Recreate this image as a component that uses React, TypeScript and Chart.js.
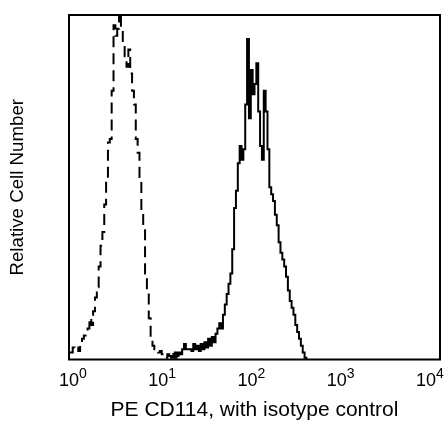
import React, { useEffect, useRef } from "react";
import { Chart, registerables } from "chart.js";

Chart.register(...registerables);

// Histogram bins (log10 of fluorescence), width of one bin in decades
const BIN_WIDTH = 0.02;

// Isotype control (dashed) — first bin starts at 10^0.00
const isotypeStart = 0.0;
const isotypeCounts = [
  2, 2, 3.5, 3, 3.5, 2.5, 4, 6, 7, 7.5,
  9, 12, 10, 14, 18, 21, 27, 33, 37, 45,
  52, 63, 64, 78, 97, 94, 96, 101, 96, 91,
  88, 85, 90, 83, 78, 74, 64, 60, 53, 43,
  38, 25, 20, 12, 6, 4, 3, 2.5, 2, 2.5,
  1.5, 1, 0.5, 1.5, 1, 0.5, 1.5, 0.5, 1, 0, 0,
];

// PE CD114 (solid) — first bin starts at 10^1.08
const cd114Start = 1.08;
const cd114Counts = [
  1, 0.5, 1, 2, 1, 2, 1.5, 3, 4.5, 3,
  3, 3, 2.5, 4.5, 3, 4, 2.5, 4.5, 3, 5,
  3.5, 6, 4, 6.5, 5, 7.5, 9, 10.5, 9, 13,
  16, 19, 22, 25, 32, 44, 49, 57, 62, 58,
  61, 74, 93, 70, 84, 77, 80, 86, 72, 62,
  58, 78, 72, 61, 50, 48, 46, 42, 39, 34,
  31, 29, 27, 24, 20, 17, 15, 13, 10, 8,
  6, 4, 2, 0.5, 0,
];

// Axis
const xDecades = [0, 1, 2, 3, 4];
const tickBase = "10";
const tickExponents = ["0", "1", "2", "3", "4"];
const xTitle = "PE CD114, with isotype control";
const yTitle = "Relative Cell Number";

const FONT = "'Liberation Sans', Arial, Helvetica, sans-serif";

function toPoints(start: number, counts: number[]) {
  return counts.map((c, i) => ({ x: +(start + i * BIN_WIDTH).toFixed(4), y: c }));
}

const frameAndTicks = {
  id: "frameAndTicks",
  afterDraw(chart: any) {
    const { ctx, chartArea } = chart;
    ctx.save();
    ctx.strokeStyle = "#000";
    ctx.lineWidth = 2;
    ctx.strokeRect(
      chartArea.left,
      chartArea.top,
      chartArea.right - chartArea.left,
      chartArea.bottom - chartArea.top
    );
    ctx.fillStyle = "#000";
    ctx.textBaseline = "alphabetic";
    ctx.textAlign = "left";
    const baseFont = `18px ${FONT}`;
    const expFont = `14px ${FONT}`;
    const baseY = chartArea.bottom + 26.5;
    const expY = chartArea.bottom + 18.5;
    // labels spread slightly inside the frame, as in the original figure
    const firstC = chartArea.left + 4;
    const lastC = chartArea.right - 10;
    const n = xDecades.length - 1;
    xDecades.forEach((d, i) => {
      const cx = firstC + ((lastC - firstC) * (d - xDecades[0])) / (xDecades[n] - xDecades[0]);
      ctx.font = baseFont;
      const wb = ctx.measureText(tickBase).width;
      ctx.font = expFont;
      const we = ctx.measureText(tickExponents[i]).width;
      const start = cx - (wb + we) / 2;
      ctx.font = baseFont;
      ctx.fillText(tickBase, start, baseY);
      ctx.font = expFont;
      ctx.fillText(tickExponents[i], start + wb, expY);
    });
    ctx.restore();
  },
};

export default function App() {
  const canvasRef = useRef<HTMLCanvasElement | null>(null);

  useEffect(() => {
    if (!canvasRef.current) return;
    const chart = new Chart(canvasRef.current, {
      type: "line",
      data: {
        datasets: [
          {
            label: "Isotype control",
            data: toPoints(isotypeStart, isotypeCounts),
            borderColor: "#000",
            borderWidth: 2,
            borderDash: [11, 6],
            stepped: "before",
            pointRadius: 0,
            fill: false,
          },
          {
            label: "PE CD114",
            data: toPoints(cd114Start, cd114Counts),
            borderColor: "#000",
            borderWidth: 2,
            stepped: "before",
            pointRadius: 0,
            fill: false,
          },
        ],
      },
      options: {
        responsive: false,
        animation: false,
        layout: { padding: { top: 15, right: 4, left: 0, bottom: 0 } },
        plugins: {
          legend: { display: false },
          tooltip: { enabled: false },
        },
        scales: {
          x: {
            type: "linear",
            min: 0,
            max: 4,
            grid: { display: false },
            border: { display: false },
            ticks: { display: false },
            title: {
              display: true,
              text: xTitle,
              color: "#000",
              font: { family: FONT, size: 21 },
              padding: { top: 0, bottom: 1.5 },
            },
            afterFit: (scale: any) => {
              scale.height = 64.5;
            },
          },
          y: {
            min: 0,
            max: 100,
            grid: { display: false },
            border: { display: false },
            ticks: { display: false },
            title: {
              display: true,
              text: yTitle,
              color: "#000",
              font: { family: FONT, size: 18.7 },
              padding: { top: 7, bottom: 0 },
            },
            afterFit: (scale: any) => {
              scale.width = 69;
            },
          },
        },
      },
      plugins: [frameAndTicks],
    });
    return () => chart.destroy();
  }, []);

  return (
    <div style={{ position: "absolute", left: 0, top: 0, width: 444, height: 424, background: "#fff" }}>
      <canvas ref={canvasRef} width={444} height={424} style={{ display: "block" }} />
    </div>
  );
}
